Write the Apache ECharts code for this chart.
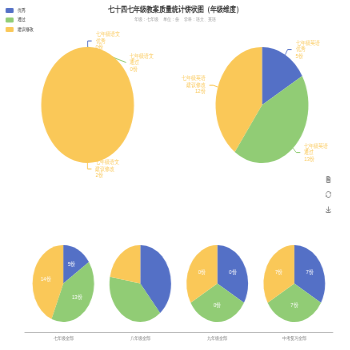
<!DOCTYPE html>
<html>
<head>
<meta charset="utf-8">
<script src="https://cdn.jsdelivr.net/npm/echarts@6/dist/echarts.min.js"></script>
<style>
  html, body { margin: 0; padding: 0; overflow: hidden; background: #fff; }
  /* the chart is laid out wide and then narrowed horizontally */
  #main { width: 438px; height: 350px; transform: scaleX(0.8); transform-origin: 0 0; }
</style>
</head>
<body>
<div id="main"></div>
<script>
// quality levels (legend / slice names)
const levels = ['优秀', '通过', '建议修改'];
const levelColors = ['#5470c6', '#91cc75', '#fac858'];

// grade 7, per subject
const chineseName = '七年级语文';
const chineseCounts = [0, 0, 2];
const englishName = '七年级英语';
const englishCounts = [5, 13, 12];

// totals per grade group
const gradeNames = ['七年级全部', '八年级全部', '九年级全部', '中考复习全部'];
const grade7Totals = [5, 13, 14];
const grade8Totals = [7, 7, 4];
const grade9Totals = [0, 0, 0];
const reviewTotals = [7, 7, 7];
const groupTotals = [grade7Totals, grade8Totals, grade9Totals, reviewTotals];
const groupShowLabel = [true, false, true, true];

const titleText = '七十四七年级教案质量统计饼状图（年级维度）';
const subTitleText = '年级：七年级    单位：份    学科：语文、英语';

const chart = echarts.init(document.getElementById('main'), null, { renderer: 'canvas' });

function toItems(values) {
  return values.map((v, i) => ({ name: levels[i], value: v }));
}

const subjectLabel = {
  show: true,
  color: '#fac858',
  fontSize: 6,
  lineHeight: 6.5,
  formatter: p => p.seriesName + '\n' + p.name + '\n' + p.value + '份'
};

// keep the label of a slice whose middle sits exactly at the bottom on the right-hand side
function bottomLabelToRight(p) {
  const pts = p.labelLinePoints;
  const r = p.labelRect;
  if (!pts || pts.length < 3) return {};
  const cx = pts[0][0];
  if (pts[2][0] >= cx) return {};
  return {
    x: 2 * cx - (r.x + r.width),
    y: r.y + r.height / 2,
    align: 'left',
    verticalAlign: 'middle',
    labelLinePoints: pts.map(pt => [2 * cx - pt[0], pt[1]])
  };
}

const baseOption = {
  color: levelColors,
  animation: false,
  title: {
    text: titleText,
    subtext: subTitleText,
    left: 'center',
    top: 1,
    itemGap: 3,
    textStyle: { fontSize: 8, fontWeight: 'bold', color: '#333' },
    subtextStyle: { fontSize: 5, color: '#999' }
  },
  legend: {
    orient: 'vertical',
    left: 2,
    top: 3,
    itemWidth: 10,
    itemHeight: 5,
    itemGap: 4.5,
    textStyle: { fontSize: 5, color: '#333' },
    data: levels
  },
  toolbox: {
    orient: 'vertical',
    right: 7,
    top: 159,
    itemSize: 6,
    itemGap: 4,
    iconStyle: { borderColor: '#888' },
    feature: { dataView: {}, restore: {}, saveAsImage: {} }
  },
  grid: { left: 31, right: 22, bottom: 18, top: 230 },
  xAxis: {
    type: 'category',
    data: gradeNames,
    axisLine: { lineStyle: { color: '#bbb' } },
    axisTick: { alignWithLabel: true, length: 2, lineStyle: { color: '#bbb' } },
    axisLabel: { fontSize: 5, color: '#777', margin: 4 }
  },
  yAxis: { type: 'value', show: false },
  series: []
};

chart.setOption(baseOption);

const series = [
  {
    name: chineseName,
    type: 'pie',
    center: [109.5, 105],
    radius: 58,
    // a hair off vertical so the empty slices' labels sit on the right
    startAngle: 89.9,
    label: subjectLabel,
    labelLine: { length: 6, length2: 5 },
    labelLayout: p => (p.dataIndex === 2 ? bottomLabelToRight(p) : {}),
    data: toItems(chineseCounts)
  },
  {
    name: englishName,
    type: 'pie',
    center: [327.5, 105],
    radius: 58,
    startAngle: 90,
    label: subjectLabel,
    labelLine: { length: 6, length2: 5 },
    data: toItems(englishCounts)
  }
];

// one small pie above each grade category on the axis
gradeNames.forEach((g, i) => {
  const cx = chart.convertToPixel({ xAxisIndex: 0 }, g);
  series.push({
    name: g,
    type: 'pie',
    center: [cx, 283.5],
    radius: 38.5,
    startAngle: 90,
    label: {
      show: groupShowLabel[i],
      position: 'inner',
      color: '#fff',
      fontSize: 6,
      formatter: '{c}份'
    },
    labelLine: { show: false },
    data: toItems(groupTotals[i])
  });
});

chart.setOption({ series: series });
</script>
</body>
</html>
